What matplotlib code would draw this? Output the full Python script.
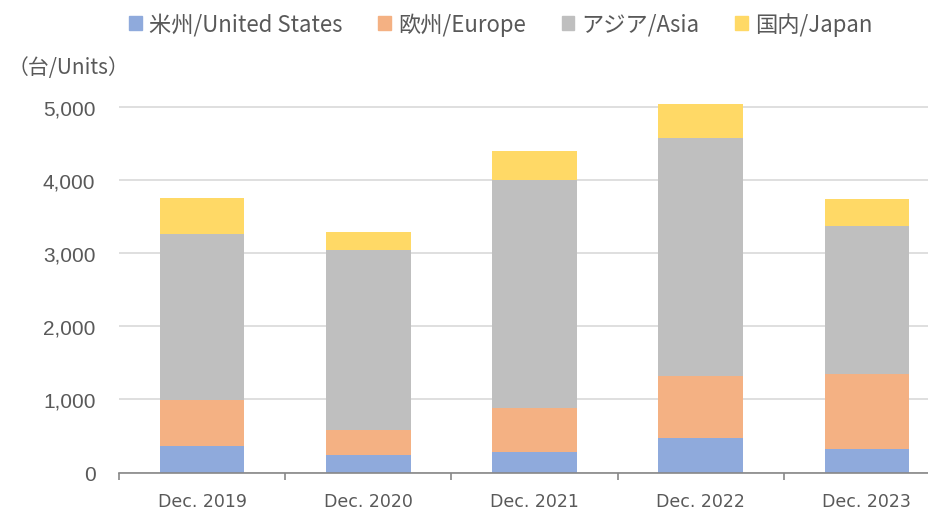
import matplotlib
matplotlib.use("Agg")
import matplotlib.pyplot as plt
from matplotlib.patches import Patch

categories = ["Dec. 2019", "Dec. 2020", "Dec. 2021", "Dec. 2022", "Dec. 2023"]
us = [364, 241, 282, 474, 319]
europe = [626, 338, 599, 841, 1028]
asia = [2274, 2466, 3123, 3260, 2023]
japan = [494, 243, 401, 474, 370]
series_names = ["米州/United States", "欧州/Europe", "アジア/Asia", "国内/Japan"]
colors = ["#8FAADC", "#F4B183", "#BFBFBF", "#FFD966"]
yticks = [0, 1000, 2000, 3000, 4000, 5000]

plt.rcParams['font.family'] = ['Noto Sans CJK JP', 'DejaVu Sans']
TXT = "#595959"

fig = plt.figure(figsize=(9.29, 5.10), dpi=100)
ax = fig.add_axes([119/929, 36.5/510, 831/929, 372.5/510])

x = list(range(len(categories)))
bottom = [0]*len(categories)
for vals, c in zip([us, europe, asia, japan], colors):
    ax.bar(x, vals, width=0.51, bottom=bottom, color=c, zorder=3)
    bottom = [b + v for b, v in zip(bottom, vals)]

ax.set_xlim(-0.5, 4.5)
ax.set_ylim(0, 5100)
ax.set_yticks(yticks)
ax.set_yticklabels([f"{v:,}" for v in yticks], family=['Liberation Sans'], fontsize=15, color=TXT)
ax.set_xticks(x)
ax.set_xticklabels(categories, family=['DejaVu Sans'], fontsize=12.5, color=TXT)
ax.set_xticks([i - 0.5 for i in range(6)], minor=True)
ax.tick_params(axis='x', which='major', length=0, pad=14)
ax.tick_params(axis='x', which='minor', length=5, color="#878787", width=1.2)
ax.tick_params(axis='y', length=0, pad=17)
ax.grid(axis='y', color="#D9D9D9", linewidth=1.2, zorder=0)
for s in ['top', 'right', 'left']:
    ax.spines[s].set_visible(False)
ax.spines['bottom'].set_color("#878787")
ax.spines['bottom'].set_linewidth(1.2)
ax.spines['bottom'].set_zorder(4)

handles = [Patch(color=c) for c in colors]
fig.legend(handles, series_names, loc='center', bbox_to_anchor=(501/929, 1 - 25/510),
           ncol=4, frameon=False, fontsize=16, handlelength=0.55, handleheight=0.55,
           handletextpad=0.35, columnspacing=1.6, labelcolor=TXT)

fig.text(8/929, 1 - 68/510, "（台/Units）", fontsize=15, color=TXT, va='center', ha='left')

fig.savefig("out.png", dpi=100)
